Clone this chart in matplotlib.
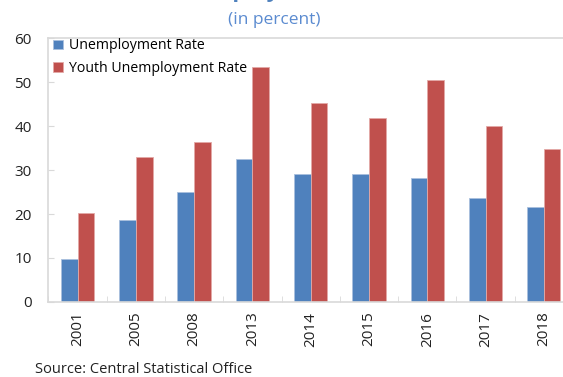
import numpy as np
import matplotlib
matplotlib.use("Agg")
import matplotlib.pyplot as plt

YEARS = ["2001", "2005", "2008", "2013", "2014", "2015", "2016", "2017", "2018"]
UNEMP = [9.7, 18.6, 24.9, 32.5, 29.2, 29.0, 28.1, 23.6, 21.7]
YOUTH = [20.2, 32.9, 36.4, 53.4, 45.3, 41.9, 50.5, 40.0, 34.8]

BLUE = "#4F81BD"
RED = "#C0504D"
GRID = "#D9D9D9"

plt.rcParams["font.family"] = ["Open Sans", "DejaVu Sans"]

fig = plt.figure(figsize=(5.63, 3.77), dpi=100)
ax = fig.add_axes([0.0861, 0.199, 0.9316, 0.700])

x = np.arange(len(YEARS))
w = 0.286
ax.bar(x - w / 2, UNEMP, w, color=BLUE, edgecolor="#A9C0DE", linewidth=0.6,
       label="Unemployment Rate")
ax.bar(x + w / 2, YOUTH, w, color=RED, edgecolor="#E3A9A7", linewidth=0.6,
       label="Youth Unemployment Rate")

ax.set_xlim(-0.5, len(YEARS) - 0.5)
ax.set_ylim(0, 60)
ax.set_yticks(range(0, 61, 10))
ax.set_xticks(np.arange(len(YEARS) + 1) - 0.5, minor=True)
ax.set_xticks(x)
ax.set_xticklabels(YEARS, rotation=90)

for s in ax.spines.values():
    s.set_color(GRID)
    s.set_linewidth(1.2)
ax.tick_params(axis="y", direction="in", length=4, color=GRID, labelsize=11,
               pad=12, labelcolor="#222222")
ax.tick_params(axis="x", which="major", length=0, labelsize=11, pad=7,
               labelcolor="#222222")
ax.tick_params(axis="x", which="minor", direction="in", length=4, color=GRID)

leg = ax.legend(loc="upper left", frameon=False, fontsize=10.2,
                handlelength=0.7, handleheight=0.7, handletextpad=0.4,
                labelspacing=0.5, borderaxespad=0.0,
                bbox_to_anchor=(-0.002, 1.02))

# title line sits mostly above the visible area, only its descenders show
fig.text(0.448, 1.009, "Unemployment", ha="center", va="baseline",
         color=BLUE, fontsize=16, fontweight="bold")
fig.text(0.488, 0.948, "(in percent)", ha="center", va="center",
         color="#5B8BD0", fontsize=12.5)
fig.text(0.062, 0.011, "Source: Central Statistical Office", ha="left",
         va="baseline", fontsize=10.5, color="#222222")

fig.savefig("out.png", dpi=100)
